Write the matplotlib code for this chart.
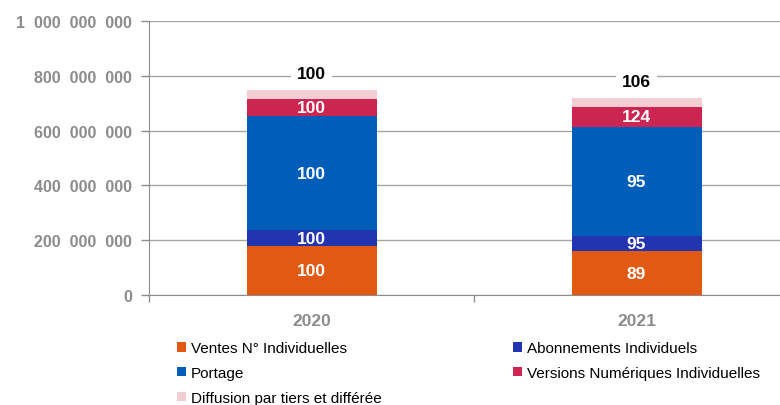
import matplotlib
matplotlib.use("Agg")
import matplotlib.pyplot as plt
import numpy as np
from matplotlib.ticker import FuncFormatter
from matplotlib.patches import Patch

annees = ["2020", "2021"]

series = ["Ventes N° Individuelles", "Abonnements Individuels", "Portage",
          "Versions Numériques Individuelles", "Diffusion par tiers et différée"]

ventes = [179e6, 158e6]
abonnements = [56e6, 55e6]
portage = [418e6, 401e6]
numeriques = [64e6, 74e6]
diffusion = [30e6, 32e6]

# indices (base 100 en 2020) affichés dans les barres
idx_ventes = ["100", "89"]
idx_abonnements = ["100", "95"]
idx_portage = ["100", "95"]
idx_numeriques = ["100", "124"]
idx_total = ["100", "106"]

couleurs = ["#E05A14", "#2334B0", "#005EB8", "#CC2552", "#F2CDD1"]

plt.rcParams['font.family'] = ['Liberation Sans Narrow', 'Liberation Sans', 'DejaVu Sans']

fig = plt.figure(figsize=(7.8, 4.06), dpi=100)
ax = fig.add_axes([149 / 780, 110.3 / 406, 650 / 780, 273.5 / 406])

x = np.arange(len(annees))
largeur = 0.4
valeurs = [ventes, abonnements, portage, numeriques, diffusion]
etiquettes = [idx_ventes, idx_abonnements, idx_portage, idx_numeriques, None]

bas = np.zeros(len(annees))
for vals, coul, etiq in zip(valeurs, couleurs, etiquettes):
    vals = np.array(vals)
    ax.bar(x, vals, largeur, bottom=bas, color=coul, linewidth=0, zorder=3)
    if etiq is not None:
        for xi, b, v, t in zip(x, bas, vals, etiq):
            ax.text(xi, b + v / 2, t, ha='center', va='center', color='white',
                    fontsize=12.5, fontweight='bold', zorder=4)
    bas = bas + vals

# totaux au-dessus des barres
for xi, tot, t in zip(x, bas, idx_total):
    ax.text(xi, tot + 60e6, t, ha='center', va='center', color='black',
            fontsize=12.5, fontweight='bold', zorder=4,
            bbox=dict(facecolor='white', edgecolor='none', pad=4))

gris = "#8C8C8C"
ax.set_xlim(-0.5, 1.5)
ax.set_ylim(0, 1e9)
ax.set_yticks(np.arange(0, 1.0e9 + 1, 2e8))
ax.yaxis.set_major_formatter(FuncFormatter(lambda v, p: f"{int(v):,}".replace(",", "  ")))
ax.set_xticks([-0.5, 0.5, 1.5])
ax.set_xticklabels([])
ax.set_xticks(x, minor=True)
ax.set_xticklabels(annees, minor=True, fontweight='bold', fontsize=12.5, color=gris)

ax.grid(axis='y', color="#A6A6A6", linewidth=1, zorder=0)
for s in ['top', 'right']:
    ax.spines[s].set_visible(False)
for s in ['left', 'bottom']:
    ax.spines[s].set_color(gris)
ax.tick_params(axis='y', colors=gris, length=6, width=1, labelsize=11.5, pad=6)
ax.tick_params(axis='x', which='major', colors=gris, length=5, width=1)
ax.tick_params(axis='x', which='minor', length=0, pad=13)
for lab in ax.get_yticklabels():
    lab.set_fontweight('bold')

# légende remplie ligne par ligne
ordre = [0, 2, 4, 1, 3]
poignees = [Patch(facecolor=couleurs[i], edgecolor='none') for i in ordre]
noms = [series[i] for i in ordre]
fig.legend(poignees, noms, loc='upper left', bbox_to_anchor=(171 / 780, 1 - 336 / 406),
           ncol=2, frameon=False, fontsize=11, handlelength=0.6, handleheight=0.6,
           handletextpad=0.3, columnspacing=8.6, labelspacing=0.71, borderaxespad=0)

fig.savefig("out.png", dpi=100)
